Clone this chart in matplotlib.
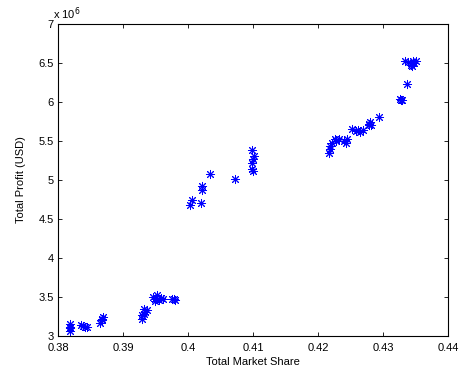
import matplotlib
matplotlib.use("Agg")
import matplotlib.pyplot as plt
from matplotlib.ticker import FuncFormatter

plt.rcParams['font.family'] = ['Liberation Sans', 'DejaVu Sans']

market_share = [
    0.3818, 0.3818, 0.3818, 0.3819,
    0.3835, 0.3838, 0.3845, 0.3842,
    0.3865, 0.3868, 0.3870, 0.3867,
    0.3930, 0.3932, 0.3934, 0.3933, 0.3937, 0.3930,
    0.3946, 0.3950, 0.3955, 0.3958, 0.3962, 0.3949, 0.3953,
    0.3975, 0.3980, 0.3978,
    0.4006, 0.4003, 0.4020, 0.4021, 0.4022, 0.4034, 0.4072,
    0.4098, 0.4101, 0.4100, 0.4099, 0.4098, 0.4100,
    0.4217, 0.4219, 0.4222, 0.4228, 0.4232, 0.4226, 0.4218,
    0.4240, 0.4245, 0.4243,
    0.4253, 0.4258, 0.4262, 0.4265, 0.4270,
    0.4278, 0.4280, 0.4282, 0.4279,
    0.4294,
    0.4326, 0.4328, 0.4330,
    0.4337,
    0.4334, 0.4339, 0.4343, 0.4345, 0.4348, 0.4351, 0.4346,
]
total_profit_millions = [
    3.16, 3.12, 3.07, 3.10,
    3.14, 3.13, 3.12, 3.11,
    3.17, 3.22, 3.24, 3.20,
    3.22, 3.28, 3.31, 3.34, 3.33, 3.27,
    3.50, 3.48, 3.46, 3.49, 3.47, 3.45, 3.52,
    3.48, 3.46, 3.47,
    4.74, 4.68, 4.71, 4.92, 4.87, 5.08, 5.01,
    5.39, 5.31, 5.27, 5.22, 5.14, 5.12,
    5.35, 5.40, 5.47, 5.50, 5.52, 5.52, 5.43,
    5.50, 5.52, 5.48,
    5.65, 5.63, 5.64, 5.62, 5.64,
    5.72, 5.74, 5.71, 5.70,
    5.81,
    6.04, 6.02, 6.03,
    6.23,
    6.52, 6.51, 6.48, 6.46, 6.50, 6.53, 6.52,
]

x_ticks = [0.38, 0.39, 0.40, 0.41, 0.42, 0.43, 0.44]
y_ticks = [3, 3.5, 4, 4.5, 5, 5.5, 6, 6.5, 7]

fig = plt.figure(figsize=(4.65, 3.74), dpi=100)
ax = fig.add_axes([0.1247, 0.1016, 0.9634 - 0.1247, 0.9358 - 0.1016])

ax.plot(market_share, total_profit_millions, linestyle='none', marker=(8, 2, 0),
        color='#0000ff', markersize=6.5, markeredgewidth=0.7)

ax.set_xlim(0.38, 0.44)
ax.set_ylim(3, 7)
ax.set_xticks(x_ticks)
ax.set_yticks(y_ticks)
ax.xaxis.set_major_formatter(FuncFormatter(lambda v, p: f"{v:g}"))
ax.yaxis.set_major_formatter(FuncFormatter(lambda v, p: f"{v:g}"))
ax.tick_params(direction='in', top=True, right=True, length=3, width=0.6,
               labelsize=8)
ax.tick_params(axis='x', pad=5)
ax.tick_params(axis='y', pad=3)
for s in ax.spines.values():
    s.set_linewidth(0.8)

ax.set_xlabel('Total Market Share', fontsize=8, labelpad=3)
ax.set_ylabel('Total Profit (USD)', fontsize=8, labelpad=9)
ax.text(-0.012, 1.008, r'x 10$^6$', transform=ax.transAxes, fontsize=8,
        ha='left', va='bottom')

fig.savefig('out.png', dpi=100)
